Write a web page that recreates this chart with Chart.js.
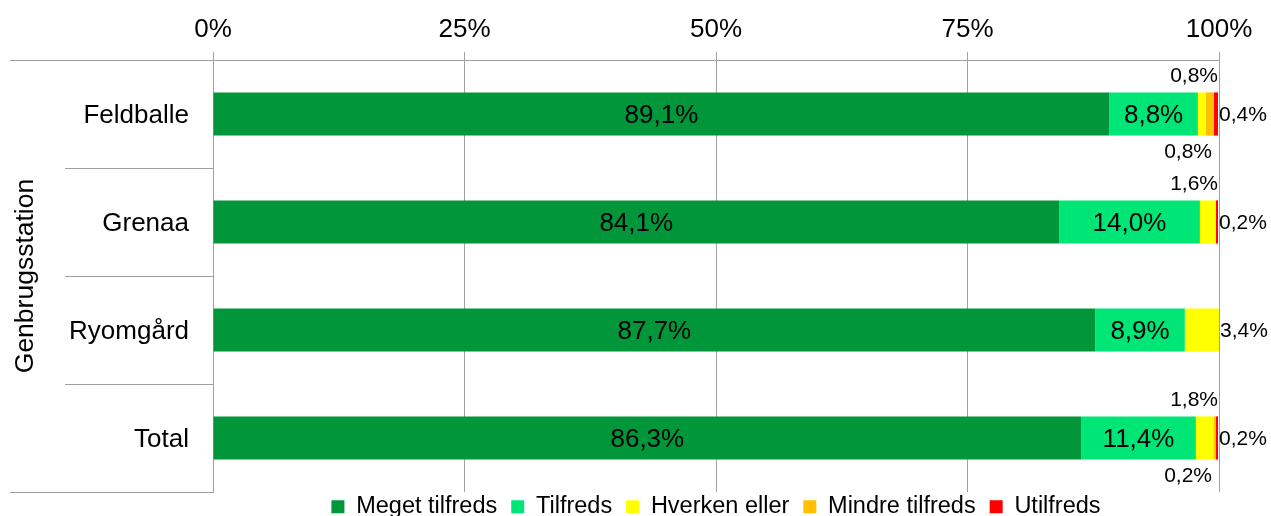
<!DOCTYPE html>
<html>
<head>
<meta charset="utf-8">
<title>Genbrugsstation</title>
<script src="https://cdn.jsdelivr.net/npm/chart.js@4.4.1/dist/chart.umd.min.js"></script>
<style>
  body { margin: 0; background: #fff; }
  #wrap { width: 1271px; height: 516px; }
</style>
</head>
<body>
<div id="wrap"><canvas id="chart"></canvas></div>
<script>
const stations = ["Feldballe", "Grenaa", "Ryomgård", "Total"];
const megetTilfreds = [89.1, 84.1, 87.7, 86.3];
const tilfreds = [8.8, 14.0, 8.9, 11.4];
const hverkenEller = [0.8, 1.6, 3.4, 1.8];
const mindreTilfreds = [0.8, 0, 0, 0.2];
const utilfreds = [0.4, 0.2, 0, 0.2];
const xTicks = [0, 25, 50, 75, 100];

const FONT = "'Liberation Sans', Arial, sans-serif";
const GRID = "#a0a0a0";
const fmt = v => v.toFixed(1).replace(".", ",") + "%";

// category separators left of the plot (the outer ones run further left)
const separators = {
    id: "separators",
    afterDraw(chart) {
        const y = chart.scales.y, ctx = chart.ctx, left = chart.chartArea.left;
        ctx.save();
        ctx.strokeStyle = GRID;
        ctx.lineWidth = 1;
        for (let i = 0; i <= stations.length; i++) {
            const py = Math.round(y.getPixelForValue(i - 0.5)) + 0.5;
            const outer = i === 0 || i === stations.length;
            ctx.beginPath();
            ctx.moveTo(outer ? 10 : 65, py);
            ctx.lineTo(left, py);
            ctx.stroke();
        }
        ctx.restore();
    }
};

// value labels: inside for the big segments, outside for the thin ones
const barLabels = {
    id: "barLabels",
    afterDatasetsDraw(chart) {
        const ctx = chart.ctx, area = chart.chartArea;
        const sets = chart.data.datasets;
        ctx.save();
        ctx.fillStyle = "#000";
        ctx.textBaseline = "middle";
        sets.forEach((ds, d) => {
            chart.getDatasetMeta(d).data.forEach((bar, i) => {
                const v = ds.data[i];
                if (!v) return;
                const text = fmt(v);
                const top = bar.y - bar.height / 2;
                const bottom = bar.y + bar.height / 2;
                if (d < 2) {
                    ctx.font = "26px " + FONT;
                    ctx.textAlign = "center";
                    ctx.fillText(text, (bar.x + bar.base) / 2, bar.y + 1.5);
                    return;
                }
                ctx.font = "21px " + FONT;
                const w = ctx.measureText(text).width;
                const last = sets.slice(d + 1).every(o => !o.data[i]);
                if (last) {
                    ctx.textAlign = "left";
                    ctx.fillText(text, bar.x + 1, bar.y + 1);
                } else if (d === 2) {
                    ctx.textAlign = "right";
                    ctx.fillText(text, Math.min((bar.x + bar.base) / 2 + w / 2, area.right - 1), top - 16);
                } else {
                    ctx.textAlign = "right";
                    ctx.fillText(text, area.right - 7, bottom + 17);
                }
            });
        });
        ctx.restore();
    }
};

// keep the legend thin and centred under the plot area
const legendPlace = {
    id: "legendPlace",
    beforeLayout(chart) {
        const lg = chart.legend;
        if (lg && !lg._fitPatched) {
            const fit = lg.fit;
            lg.fit = function () { fit.call(this); this.height = 24; };
            lg._fitPatched = true;
        }
    },
    afterLayout(chart) {
        const lg = chart.legend, area = chart.chartArea;
        lg.left = area.left;
        lg.right = area.right;
        lg.width = area.right - area.left;
        lg.top = 481;
        lg.bottom = 516;
        lg.height = 35;
    }
};

new Chart(document.getElementById("chart"), {
    type: "bar",
    data: {
        labels: stations,
        datasets: [
            { label: "Meget tilfreds", data: megetTilfreds, backgroundColor: "#009639" },
            { label: "Tilfreds", data: tilfreds, backgroundColor: "#00e676" },
            { label: "Hverken eller", data: hverkenEller, backgroundColor: "#ffff00" },
            { label: "Mindre tilfreds", data: mindreTilfreds, backgroundColor: "#ffc000" },
            { label: "Utilfreds", data: utilfreds, backgroundColor: "#ff0000" }
        ]
    },
    options: {
        indexAxis: "y",
        responsive: true,
        maintainAspectRatio: false,
        animation: false,
        layout: { padding: { left: 0, right: 52, top: 0, bottom: 0 } },
        datasets: { bar: { barPercentage: 0.4, categoryPercentage: 1 } },
        scales: {
            x: {
                stacked: true,
                position: "top",
                min: 0,
                max: 100,
                afterFit: s => { s.height = 60; },
                afterBuildTicks: s => { s.ticks = xTicks.map(v => ({ value: v })); },
                grid: { color: GRID, tickColor: GRID, tickLength: 8 },
                border: { color: GRID },
                ticks: {
                    padding: 7,
                    color: "#000",
                    font: { family: FONT, size: 26 },
                    callback: v => v + "%"
                }
            },
            y: {
                stacked: true,
                afterFit: s => { s.width = 213; },
                grid: { display: false, drawTicks: true, tickLength: 24 },
                border: { color: GRID },
                ticks: { padding: 0, labelOffset: 2, color: "#000", font: { family: FONT, size: 26 } },
                title: {
                    display: true,
                    text: "Genbrugsstation",
                    color: "#000",
                    font: { family: FONT, size: 26.5, lineHeight: 1 },
                    padding: { top: 12, bottom: 0 }
                }
            }
        },
        plugins: {
            legend: {
                position: "bottom",
                labels: {
                    color: "#000",
                    boxWidth: 13,
                    boxHeight: 13,
                    padding: 14,
                    font: { family: FONT, size: 23.5, lineHeight: 1 }
                }
            },
            tooltip: { enabled: false }
        }
    },
    plugins: [separators, barLabels, legendPlace]
});
</script>
</body>
</html>
